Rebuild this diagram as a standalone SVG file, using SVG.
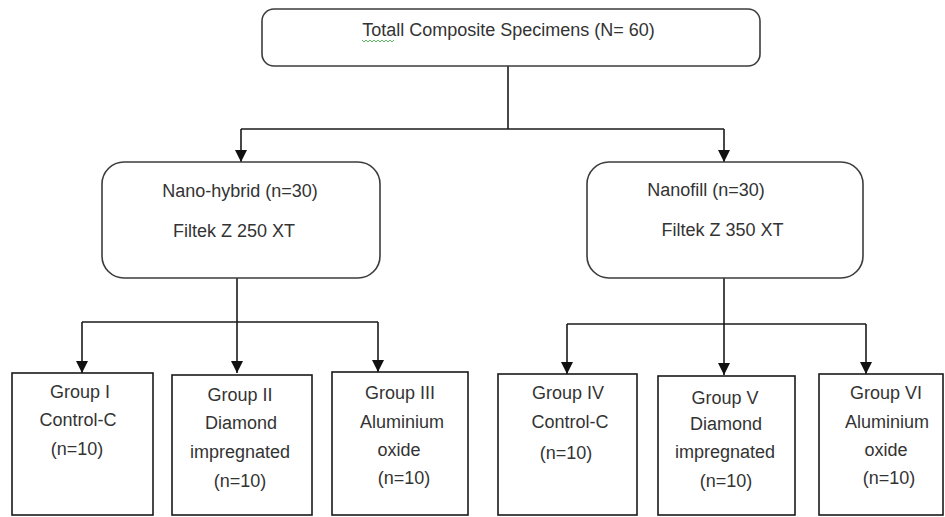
<svg xmlns="http://www.w3.org/2000/svg" width="945" height="517" viewBox="0 0 945 517">
  <style>
    .bg { fill: #ffffff; }
    .rbox { fill: #ffffff; stroke: #3c3c3c; stroke-width: 1.6; }
    .box { fill: #ffffff; stroke: #1a1a1a; stroke-width: 1.6; }
    .lbl { font-family: "Liberation Sans", Arial, sans-serif; font-size: 18px; fill: #333333; text-anchor: middle; }
    .conn { fill: none; stroke: #1a1a1a; stroke-width: 1.6; }
    .squig { fill: none; stroke: #4caf50; stroke-width: 0.9; }
  </style>
  <defs>
    <marker id="arrow" markerUnits="userSpaceOnUse" markerWidth="12" markerHeight="13" refX="6" refY="12" orient="auto-start-reverse" viewBox="0 0 12 13">
      <path d="M0,0 L12,0 L6,12 Z" fill="#111111" transform="rotate(-90 6 6)"/>
    </marker>
    <marker id="ah" markerUnits="userSpaceOnUse" markerWidth="12" markerHeight="12" refX="12" refY="6" orient="auto" viewBox="0 0 12 12">
      <path d="M0,0 L12,6 L0,12 Z" fill="#111111"/>
    </marker>
  </defs>
  <rect class="bg" x="0" y="0" width="945" height="517"/>

  <g id="connectors">
    <path class="conn" d="M508,66 V129"/>
    <path class="conn" d="M241,129 H724"/>
    <path class="conn" d="M241,129 V162" marker-end="url(#ah)"/>
    <path class="conn" d="M724,129 V162" marker-end="url(#ah)"/>

    <path class="conn" d="M237,278 V373" marker-end="url(#ah)"/>
    <path class="conn" d="M82,322 H378"/>
    <path class="conn" d="M82,322 V373" marker-end="url(#ah)"/>
    <path class="conn" d="M378,322 V372" marker-end="url(#ah)"/>

    <path class="conn" d="M724,278 V375" marker-end="url(#ah)"/>
    <path class="conn" d="M567,324 H866"/>
    <path class="conn" d="M567,324 V374" marker-end="url(#ah)"/>
    <path class="conn" d="M866,324 V374" marker-end="url(#ah)"/>
  </g>

  <g id="total">
    <rect class="rbox" x="262" y="9" width="498" height="57" rx="12" ry="12"/>
    <text class="lbl" x="508.5" y="36">Totall Composite Specimens (N= 60)</text>
    <path class="squig" d="M362,40 l2,2 l2,-2 l2,2 l2,-2 l2,2 l2,-2 l2,2 l2,-2 l2,2 l2,-2 l2,2 l2,-2 l2,2 l2,-2 l2,2 l2,-2"/>
  </g>

  <g id="nanohybrid">
    <rect class="rbox" x="102" y="162" width="278" height="116" rx="22" ry="22"/>
    <text class="lbl" x="240" y="197">Nano-hybrid (n=30)</text>
    <text class="lbl" x="234" y="237">Filtek Z 250 XT</text>
  </g>

  <g id="nanofill">
    <rect class="rbox" x="587" y="162" width="276" height="116" rx="22" ry="22"/>
    <text class="lbl" x="706" y="196">Nanofill (n=30)</text>
    <text class="lbl" x="722.5" y="236">Filtek Z 350 XT</text>
  </g>

  <g id="group1">
    <rect class="box" x="12" y="373" width="141" height="142"/>
    <text class="lbl" x="80" y="398">Group I</text>
    <text class="lbl" x="78" y="426">Control-C</text>
    <text class="lbl" x="77" y="455">(n=10)</text>
  </g>

  <g id="group2">
    <rect class="box" x="172" y="375" width="140" height="140"/>
    <text class="lbl" x="240" y="401">Group II</text>
    <text class="lbl" x="241" y="429">Diamond</text>
    <text class="lbl" x="240" y="458">impregnated</text>
    <text class="lbl" x="240" y="487">(n=10)</text>
  </g>

  <g id="group3">
    <rect class="box" x="332" y="372" width="136" height="143"/>
    <text class="lbl" x="400" y="399">Group III</text>
    <text class="lbl" x="402" y="428">Aluminium</text>
    <text class="lbl" x="399" y="456">oxide</text>
    <text class="lbl" x="404" y="484">(n=10)</text>
  </g>

  <g id="group4">
    <rect class="box" x="498" y="374" width="139" height="141"/>
    <text class="lbl" x="568" y="399">Group IV</text>
    <text class="lbl" x="570" y="428">Control-C</text>
    <text class="lbl" x="566" y="459">(n=10)</text>
  </g>

  <g id="group5">
    <rect class="box" x="658" y="376" width="137" height="139"/>
    <text class="lbl" x="725" y="404">Group V</text>
    <text class="lbl" x="726" y="430">Diamond</text>
    <text class="lbl" x="725" y="458">impregnated</text>
    <text class="lbl" x="726" y="487">(n=10)</text>
  </g>

  <g id="group6">
    <rect class="box" x="819" y="374" width="124" height="141"/>
    <text class="lbl" x="886" y="399">Group VI</text>
    <text class="lbl" x="887" y="428">Aluminium</text>
    <text class="lbl" x="886" y="456">oxide</text>
    <text class="lbl" x="889" y="484">(n=10)</text>
  </g>
</svg>
